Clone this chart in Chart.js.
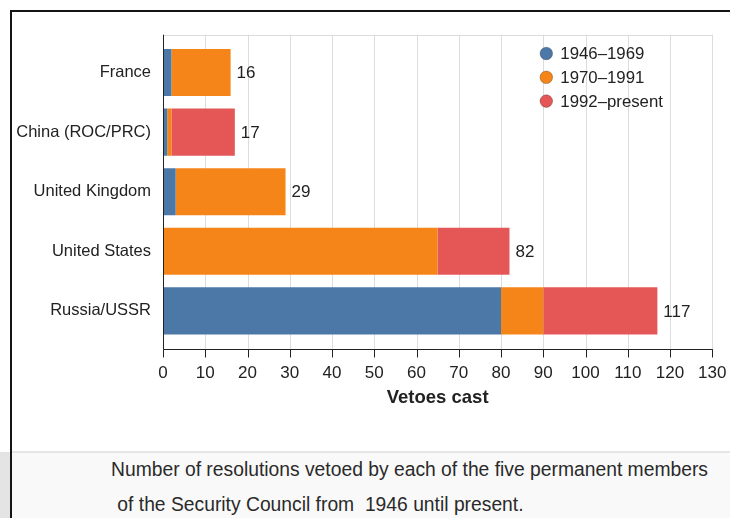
<!DOCTYPE html>
<html>
<head>
<meta charset="utf-8">
<script src="https://cdn.jsdelivr.net/npm/chart.js@4/dist/chart.umd.min.js"></script>
<style>
  html, body { margin: 0; padding: 0; background: #fff; }
  body { width: 730px; height: 518px; position: relative; overflow: hidden;
         font-family: "Liberation Sans", Arial, sans-serif; }
  #frame { position: absolute; left: 10px; top: 10px; right: -10px; bottom: -10px;
           border-left: 2px solid #151515; border-top: 2px solid #151515; }
  #strip { position: absolute; left: 0; top: 452px; width: 10px; bottom: 0; background: #e4e4e4; }
  #caption { position: absolute; left: 12px; right: 0; top: 451px; bottom: 0;
             background: #f9f9f9; border-top: 2px solid #e6e6e6; color: #2a2a2a; font-size: 19.3px; }
  #caption div { position: absolute; white-space: pre; }
  #chart { position: absolute; left: 0; top: 0; }
</style>
</head>
<body>
<div id="frame"></div>
<div id="strip"></div>
<div id="caption">
  <div style="left:99px; top:6px;">Number of resolutions vetoed by each of the five permanent members</div>
  <div style="left:100px; top:41px;"> of the Security Council from  1946 until present.</div>
</div>
<canvas id="chart" width="730" height="452"></canvas>
<script>
// ── Data ─────────────────────────────────────────────────
const MEMBERS    = ['France', 'China (ROC/PRC)', 'United Kingdom', 'United States', 'Russia/USSR'];
const PERIODS    = ['1946–1969', '1970–1991', '1992–present'];
const VETO_46_69 = [2, 1, 3, 0, 80];
const VETO_70_91 = [14, 1, 26, 65, 10];
const VETO_92_ON = [0, 15, 0, 17, 27];
const X_TICKS    = [0, 10, 20, 30, 40, 50, 60, 70, 80, 90, 100, 110, 120, 130];

// ── Colours ──────────────────────────────────────────────
const COLORS = ['#4c78a8', '#f58518', '#e45756'];
const FONT   = '"Liberation Sans", Arial, sans-serif';

Chart.defaults.font.family = FONT;
Chart.defaults.color = '#222';

const series = [VETO_46_69, VETO_70_91, VETO_92_ON];
const totals = MEMBERS.map((_, i) => series.reduce((s, arr) => s + arr[i], 0));

// ── Custom grid, axes, totals and legend ─────────────────
const decorations = {
  id: 'decorations',
  beforeDatasetsDraw(chart) {
    const { ctx, chartArea: a, scales: { x } } = chart;
    const top = a.top - 8, bottom = a.bottom + 8;
    ctx.save();
    ctx.strokeStyle = '#dcdcdc';
    ctx.lineWidth = 1;
    X_TICKS.forEach(v => {
      const px = Math.round(x.getPixelForValue(v)) + 0.5;
      ctx.beginPath(); ctx.moveTo(px, top); ctx.lineTo(px, bottom); ctx.stroke();
    });
    ctx.beginPath();
    ctx.moveTo(x.getPixelForValue(0), Math.round(top) + 0.5);
    ctx.lineTo(x.getPixelForValue(130), Math.round(top) + 0.5);
    ctx.stroke();
    ctx.restore();
  },
  afterDatasetsDraw(chart) {
    const { ctx, chartArea: a, scales: { x, y } } = chart;
    const top = a.top - 8, bottom = Math.round(a.bottom + 8) + 0.5;
    ctx.save();
    // axes
    ctx.strokeStyle = '#222';
    ctx.lineWidth = 1;
    const x0 = Math.round(x.getPixelForValue(0)) + 0.5;
    ctx.beginPath(); ctx.moveTo(x0, top); ctx.lineTo(x0, bottom); ctx.stroke();
    ctx.beginPath(); ctx.moveTo(x0, bottom); ctx.lineTo(x.getPixelForValue(130) + 0.5, bottom); ctx.stroke();
    X_TICKS.forEach(v => {
      const px = Math.round(x.getPixelForValue(v)) + 0.5;
      ctx.beginPath(); ctx.moveTo(px, bottom); ctx.lineTo(px, bottom + 8); ctx.stroke();
    });
    // totals
    ctx.fillStyle = '#222';
    ctx.font = '17px ' + FONT;
    ctx.textBaseline = 'middle';
    ctx.textAlign = 'left';
    totals.forEach((t, i) => {
      ctx.fillText(String(t), x.getPixelForValue(t) + 6, y.getPixelForValue(i) + 1);
    });
    // legend
    ctx.font = '16.8px ' + FONT;
    chart.data.datasets.forEach((ds, i) => {
      const cx = a.right - 166, cy = a.top + 10.8 + i * 23.8;
      ctx.beginPath();
      ctx.arc(cx, cy, 6.3, 0, Math.PI * 2);
      ctx.fillStyle = ds.backgroundColor;
      ctx.fill();
      ctx.strokeStyle = 'rgba(0,0,0,0.25)';
      ctx.stroke();
      ctx.fillStyle = '#222';
      ctx.fillText(ds.label, cx + 14, cy + 1);
    });
    ctx.restore();
  },
};

new Chart(document.getElementById('chart'), {
  type: 'bar',
  data: {
    labels: MEMBERS,
    datasets: PERIODS.map((p, i) => ({
      label: p,
      data: series[i],
      backgroundColor: COLORS[i],
      borderWidth: 0,
      categoryPercentage: 0.79,
      barPercentage: 1,
    })),
  },
  options: {
    indexAxis: 'y',
    responsive: false,
    animation: false,
    layout: { padding: { top: 42.7, right: 17.7, left: 0, bottom: 0 } },
    plugins: { legend: { display: false }, tooltip: { enabled: false } },
    scales: {
      x: {
        stacked: true,
        min: 0,
        max: 130,
        afterBuildTicks: s => { s.ticks = X_TICKS.map(v => ({ value: v })); },
        grid: { display: false, drawTicks: false },
        border: { display: false },
        ticks: { font: { size: 17 }, color: '#222', padding: 22 },
        title: { display: true, text: 'Vetoes cast', font: { size: 18.5, weight: 'bold' },
                 color: '#222', padding: { top: 0, bottom: 43 } },
        afterFit: s => { s.height = 111.3; s.paddingLeft = 0; s.paddingRight = 0; },
      },
      y: {
        stacked: true,
        grid: { display: false, drawTicks: false },
        border: { display: false },
        ticks: { font: { size: 16.5 }, color: '#222', padding: 12 },
        afterFit: s => { s.width = 163; s.paddingTop = 0; s.paddingBottom = 0; },
      },
    },
  },
  plugins: [decorations],
});
</script>
</body>
</html>
